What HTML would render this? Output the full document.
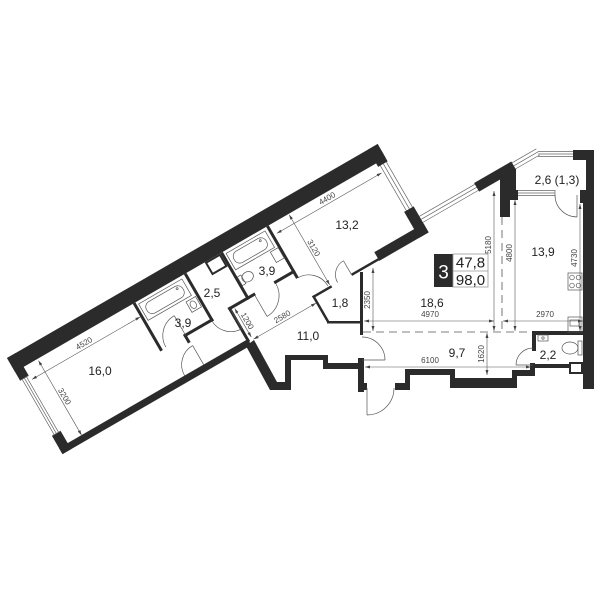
<!DOCTYPE html>
<html><head><meta charset="utf-8"><style>
html,body{margin:0;padding:0;background:#fff}
svg{display:block}
text{font-family:"Liberation Sans",sans-serif}
.r{font-size:12px;fill:#222;text-anchor:middle}
.d{font-size:8px;fill:#444;text-anchor:middle}
.w{fill:#2b2b2b}
.t{fill:none;stroke:#555;stroke-width:0.7}
.g{fill:none;stroke:#666;stroke-width:0.7}
.dm{fill:none;stroke:#555;stroke-width:0.6;marker-start:url(#a);marker-end:url(#a)}
</style></head><body>
<svg width="600" height="600" viewBox="0 0 600 600" xmlns="http://www.w3.org/2000/svg">
<defs>
<marker id="a" viewBox="0 0 10 10" refX="10" refY="5" markerWidth="5" markerHeight="5" orient="auto-start-reverse" markerUnits="userSpaceOnUse"><path d="M0,2 L10,5 L0,8z" fill="#444"/></marker>
</defs>
<rect width="600" height="600" fill="#fff"/>

<!-- ROTATED LEFT WING -->
<g transform="translate(7,358) rotate(-30)">
 <rect class="w" x="0" y="0" width="428" height="16"/>
 <rect class="w" x="0" y="0" width="10" height="26"/>
 <rect class="w" x="0" y="90" width="10" height="21"/>
 <rect class="w" x="0" y="104" width="218" height="7"/>
 <!-- left window -->
 <path class="g" d="M2.5,26V90M5,26V90M7.5,26V90M0,26H10M0,90H10"/>
 <!-- 13.2 right end -->
 <rect class="w" x="417" y="0" width="11" height="20"/>
 <rect class="w" x="417" y="72" width="11" height="30"/>
 <rect class="w" x="371" y="92" width="57" height="10"/>
 <path class="g" d="M419.5,20V72M423,20V72M426.5,20V72"/>
 <!-- 18.6 window & balcony glazing -->
 <path class="g" d="M428,83.5H492M428,87H492M428,90.5H492"/>
 <rect class="w" x="492" y="82" width="43" height="10"/>
 <path class="g" d="M535,83.5H563M535,87H563M535,90.5H563"/>
 <!-- interior walls -->
 <rect class="w" x="136" y="16" width="3" height="55"/>
 <rect class="w" x="195" y="16" width="3" height="55"/>
 <rect class="w" x="164" y="68" width="34" height="3"/>
 <rect class="w" x="164" y="68" width="3" height="10"/>
 <rect class="w" x="237" y="16" width="3" height="54"/>
 <rect class="w" x="216" y="67" width="31" height="3"/>
 <rect class="w" x="216" y="67" width="3" height="40"/>
 <rect class="w" x="269" y="67" width="24" height="3"/>
 <rect class="w" x="290" y="16" width="3" height="60"/>
 <rect class="w" x="295" y="99" width="2.5" height="30"/>
 <rect class="w" x="295" y="99" width="22" height="2.5"/>
 <rect class="w" x="340" y="99" width="32" height="2.5"/>
 <!-- closet -->
 <rect x="220" y="17" width="16" height="13" fill="none" stroke="#2b2b2b" stroke-width="2"/>
 <!-- fixtures -->
 <rect class="t" x="141" y="19" width="50" height="19"/>
 <rect class="t" x="145" y="22" width="42" height="13" rx="6"/>
 <circle class="t" cx="182" cy="25" r="1"/>
 <rect class="t" x="183" y="41" width="11" height="12"/>
 <ellipse class="t" cx="188" cy="47" rx="3" ry="4"/>
 <rect class="t" x="242" y="19" width="45" height="19"/>
 <rect class="t" x="246" y="22" width="37" height="13" rx="6"/>
 <circle class="t" cx="278" cy="25" r="1"/>
 <ellipse class="t" cx="249" cy="50" rx="6" ry="5"/>
 <rect class="t" x="240" y="45" width="4" height="10"/>
 <rect class="t" x="281" y="40" width="9" height="12"/>
 <!-- doors -->
 <path class="t" d="M143,70 A23,23 0 0 1 166,47 M166,70V47"/>
 <path class="t" d="M145,104 A22,22 0 0 1 167,82 M167,104V82"/>
 <path class="t" d="M196,70 A22,22 0 0 0 218,92 M218,70V92"/>
 <path class="t" d="M270,70 A24,24 0 0 1 246,94 M246,70V94"/>
 <path class="t" d="M292,76 A22,22 0 0 1 314,98"/>
 <path class="t" d="M340,84 A16,16 0 0 0 324,100 M340,100V84"/>
 <!-- dims -->
 <line class="dm" x1="11" y1="31" x2="136" y2="31"/>
 <text class="d" x="74" y="28.5">4520</text>
 <line class="dm" x1="26" y1="18" x2="26" y2="104"/>
 <text class="d" transform="translate(28,62) rotate(90)">3200</text>
 <line class="dm" x1="296" y1="27" x2="417" y2="27"/>
 <text class="d" x="357" y="24.5">4400</text>
 <line class="dm" x1="316" y1="17" x2="316" y2="98"/>
 <text class="d" transform="translate(318,58) rotate(90)">3120</text>
 <line class="dm" x1="222" y1="71" x2="222" y2="104"/>
 <text class="d" transform="translate(224,88) rotate(90)">1200</text>
 <line class="dm" x1="223" y1="107" x2="295" y2="107"/>
 <text class="d" x="259" y="104.5">2580</text>
</g>

<!-- diagonal + stepped wall (bottom middle) -->
<polygon class="w" points="246,346 254,340 277,382 285,382 285,355 328,355 328,363 364,363 364,392 358,392 358,369 323,369 323,360 291,360 291,390 270,390"/>
<rect class="w" x="364" y="383" width="3" height="7"/>
<!-- 18.6 left wall -->
<rect class="w" x="360" y="272" width="3" height="63"/>
<rect class="w" x="358" y="358" width="6" height="34"/>
<!-- 1.8 bottom -->
<rect class="w" x="327" y="321" width="35" height="2.5"/>

<!-- right bottom steps -->
<rect class="w" x="395" y="383" width="15" height="7"/>
<rect class="w" x="405" y="369" width="5" height="21"/>
<rect class="w" x="405" y="369" width="50" height="6"/>
<rect class="w" x="450" y="369" width="5" height="19"/>
<rect class="w" x="450" y="378" width="67" height="10"/>
<rect class="w" x="512" y="370" width="5" height="18"/>
<rect class="w" x="512" y="370" width="23" height="6"/>
<rect class="w" x="530" y="363" width="5" height="13"/>
<rect class="w" x="533" y="364" width="40" height="4"/>
<rect x="570" y="363" width="12" height="10" fill="#fff" stroke="#2b2b2b" stroke-width="2"/>

<!-- right wall & balcony -->
<rect class="w" x="573" y="150" width="21" height="10"/>
<rect class="w" x="586" y="150" width="8" height="52"/>
<rect class="w" x="580" y="190" width="14" height="13"/>
<rect class="w" x="583" y="190" width="11" height="199"/>
<path class="g" d="M538,151.5H573M538,154H573M538,156.5H573"/>
<polygon class="w" points="500,178 516,169 516,190 518,190 518,200 510,200 510,217 500,217"/>
<!-- 13.9 window -->
<path class="g" d="M518,190.5H555M518,193H555M518,195.5H555M555,190V196"/>
<!-- 2.6 door -->
<path class="t" d="M555,195 A22,22 0 0 0 577,217 M577,195V217"/>

<!-- 2.2 bathroom -->
<rect class="w" x="533" y="331" width="50" height="4"/>
<rect class="w" x="532" y="331" width="4" height="20"/>
<rect class="t" x="538" y="335" width="10" height="6"/>
<circle class="t" cx="543" cy="338" r="1.2"/>
<ellipse class="t" cx="570" cy="348" rx="8" ry="6"/>
<rect class="t" x="578" y="341" width="4" height="14"/>
<path class="t" d="M533,348 A17,17 0 0 0 516,365 M516,365H533"/>

<!-- doors -->
<path class="t" d="M362,337 A23,23 0 0 1 385,360 M362,360H385"/>
<path class="t" d="M367,415 A27,27 0 0 0 394,388 M367,388V415"/>

<!-- kitchen -->
<rect class="t" x="568" y="273" width="14" height="17"/>
<circle class="t" cx="572" cy="277.5" r="2.3"/>
<circle class="t" cx="578.5" cy="277.5" r="2.3"/>
<circle class="t" cx="572" cy="285.5" r="2.3"/>
<circle class="t" cx="578.5" cy="285.5" r="2.3"/>
<rect class="t" x="568" y="317" width="14" height="15"/>
<rect class="t" x="570" y="320" width="9" height="6"/>

<!-- dashed zone lines -->
<path d="M363,332H532" stroke="#555" stroke-width="0.8" stroke-dasharray="8,5" fill="none"/>
<path d="M502,217V332" stroke="#555" stroke-width="0.8" stroke-dasharray="8,5" fill="none"/>

<!-- dims -->
<line class="dm" x1="364" y1="321" x2="494" y2="321"/>
<text class="d" x="430" y="317">4970</text>
<line class="dm" x1="503" y1="321" x2="583" y2="321"/>
<text class="d" x="545" y="317">2970</text>
<line class="dm" x1="494" y1="191" x2="494" y2="331"/>
<text class="d" transform="translate(491,245) rotate(-90)">5180</text>
<line class="dm" x1="515" y1="200" x2="515" y2="331"/>
<text class="d" transform="translate(512,253) rotate(-90)">4800</text>
<line class="dm" x1="580" y1="204" x2="580" y2="331"/>
<text class="d" transform="translate(577,258) rotate(-90)">4730</text>
<line class="dm" x1="373" y1="268" x2="373" y2="331"/>
<text class="d" transform="translate(370,300) rotate(-90)">2350</text>
<line class="dm" x1="487" y1="333" x2="487" y2="375"/>
<text class="d" transform="translate(484,354) rotate(-90)">1620</text>
<line class="dm" x1="365" y1="367" x2="531" y2="367"/>
<text class="d" x="430" y="363">6100</text>

<!-- badge -->
<rect class="w" x="434" y="254" width="19" height="33"/>
<text x="443.5" y="278.5" font-size="19" fill="#fff" text-anchor="middle">3</text>
<rect x="453" y="254" width="35" height="33" fill="none" stroke="#999" stroke-width="0.8"/>
<line x1="453" y1="271" x2="488" y2="271" stroke="#999" stroke-width="0.8"/>
<text x="470.5" y="267.5" font-size="15" fill="#222" text-anchor="middle">47,8</text>
<text x="470.5" y="285" font-size="15" fill="#222" text-anchor="middle">98,0</text>

<!-- room labels -->
<text class="r" x="100" y="375">16,0</text>
<text class="r" x="183" y="327">3,9</text>
<text class="r" x="212" y="297">2,5</text>
<text class="r" x="267" y="275">3,9</text>
<text class="r" x="347" y="229">13,2</text>
<text class="r" x="340" y="307">1,8</text>
<text class="r" x="308" y="340">11,0</text>
<text class="r" x="432" y="307">18,6</text>
<text class="r" x="457" y="357">9,7</text>
<text class="r" x="548" y="359">2,2</text>
<text class="r" x="543" y="256">13,9</text>
<text class="r" x="557" y="184">2,6 (1,3)</text>
</svg>
</body></html>
